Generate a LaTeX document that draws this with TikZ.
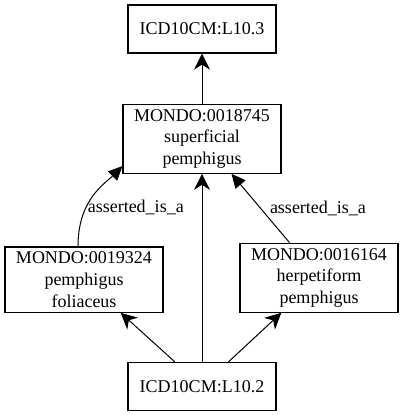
\documentclass[tikz,border=0pt]{standalone}
\usepackage{fontspec}
\setmainfont{Liberation Serif}
\usetikzlibrary{positioning,arrows.meta}

\begin{document}
\begin{tikzpicture}[
			x=1pt, y=-1pt,
			node distance=50pt,
			box/.style={
				draw,
				line width=1.2pt,
				minimum width=148pt,
				minimum height=48pt,
				inner xsep=11pt,
				inner ysep=5pt,
				align=center,
				font=\fontsize{18}{21.6}\selectfont
			},
			isa/.style={-{Stealth[length=16pt,width=16pt,inset=5pt]},line width=1pt},
			asserted/.style={-{Triangle[length=14pt,width=13pt]},line width=1pt},
			lbl/.style={font=\fontsize{18}{21.6}\selectfont,inner sep=0pt}
			]
			\useasboundingbox (0,0) rectangle (404,415);
			
			\node[box] (l103) at (202,29) {ICD10CM:L10.3};
			
			\node[box,below=of l103] (m18745)
			{MONDO:0018745\\ superficial\\ pemphigus};
			
			\node[box,below=188pt of m18745] (l102) {ICD10CM:L10.2};
			
			\node[box,above=49pt of l102,xshift=-118pt] (m19324)
			{MONDO:0019324\\ pemphigus\\ foliaceus};
			
			\node[box,above=49pt of l102,xshift=117pt] (m16164)
			{MONDO:0016164\\ herpetiform\\ pemphigus};
			
			\draw[isa] (m18745)--(l103);
			\draw[isa] (l102)--(m18745);
			\draw[isa] (l102)--(m19324);
			\draw[isa] (l102)--(m16164);
			
			\draw[asserted] ([xshift=-6pt]m19324.north)
			to[out=90,in=225,out looseness=1.3,in looseness=0.7]
			node[lbl,pos=0.35,anchor=west,xshift=1pt] {asserted\_is\_a} (m18745.199);
			\draw[asserted] (m16164)--
			node[lbl,pos=0.5,anchor=west,xshift=9pt] {asserted\_is\_a} (m18745);
			
		\end{tikzpicture}
\end{document}
